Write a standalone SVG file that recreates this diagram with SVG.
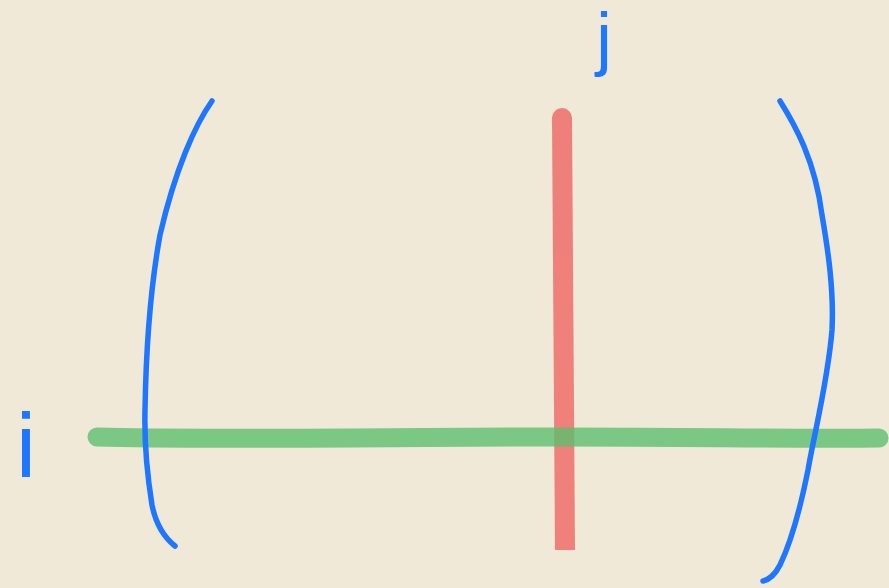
<svg xmlns="http://www.w3.org/2000/svg" width="889" height="588" viewBox="0 0 889 588">
<style>
.bracket{fill:none;stroke:#1F77FF;stroke-width:5.5;stroke-linecap:round;stroke-linejoin:round}
.lbl{font-family:"Liberation Sans",Arial,sans-serif;fill:#1F77FF;text-anchor:middle}
</style>
<rect width="889" height="588" fill="#F0E9D8"/>
<g id="col-j" opacity="0.9">
<path d="M562,117 C563,250 563,400 565,550" fill="none" stroke="#EE7470" stroke-width="20" stroke-linecap="butt"/>
<path d="M552,118 A10,10 0 0 1 572,118 Z" fill="#EE7470"/>
</g>
<g id="row-i">
<path d="M97,437 C200,440 400,437 560,437 C700,437 800,439 879,438" fill="none" stroke="#5DBF6E" stroke-opacity="0.8" stroke-width="19" stroke-linecap="round"/>
</g>
<g id="left-bracket">
<path class="bracket" d="M212,101 C195,125 175,170 160,235 C150,290 146,350 145,410 C144,450 148,480 152,505 C156,525 165,538 175,546"/>
</g>
<g id="right-bracket">
<path class="bracket" d="M780,101 C795,125 815,160 822,215 C828,250 834,290 832,330 C828,380 815,430 808,470 C800,510 792,540 780,565 C775,575 768,580 763,581"/>
</g>
<g id="label-j"><text class="lbl" x="604" y="62" font-size="70">j</text></g>
<g id="label-i"><text class="lbl" x="26" y="477" font-size="90">i</text></g>
</svg>
